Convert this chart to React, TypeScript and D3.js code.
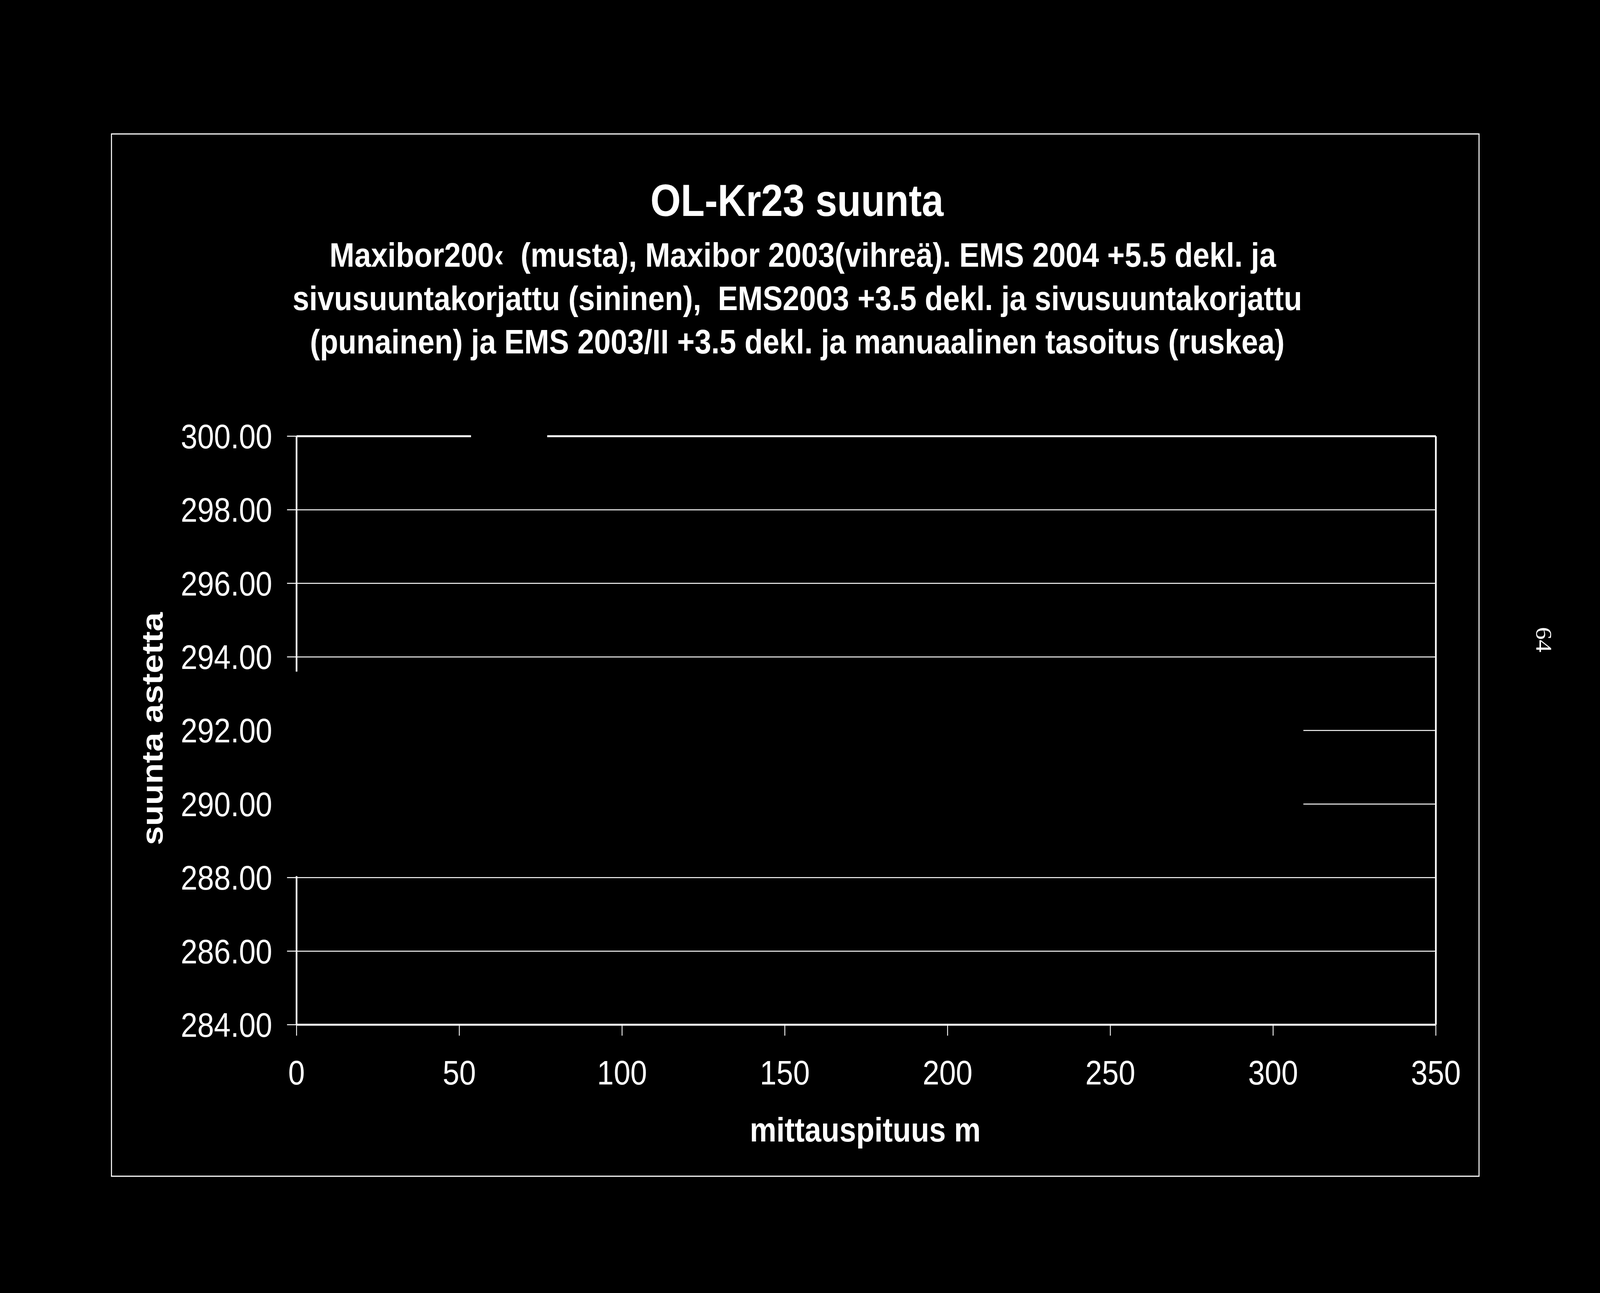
import React from 'react';
import * as d3 from 'd3';

const W = 4708;
const H = 3311;

// axis ticks (metres along the borehole, direction in degrees)
const xTicks = [0, 50, 100, 150, 200, 250, 300, 350];
const yTicks = [284, 286, 288, 290, 292, 294, 296, 298, 300];

const chartTitle = 'OL-Kr23 suunta';
const subtitleLines = [
  'Maxibor200‹  (musta), Maxibor 2003(vihreä). EMS 2004 +5.5 dekl. ja',
  'sivusuuntakorjattu (sininen),  EMS2003 +3.5 dekl. ja sivusuuntakorjattu',
  '(punainen) ja EMS 2003/II +3.5 dekl. ja manuaalinen tasoitus (ruskea)',
];
const xTitle = 'mittauspituus m';
const yTitle = 'suunta astetta';
const pageNumber = '64';

// areas where the (black) series cover the grid, in data units
const coverX0 = [-4.5, 53.6];
const coverX1 = [309.3, 77.0];
const coverY0 = [288.04, 299.9];
const coverY1 = [293.6, 300.1];

const FONT = '"Liberation Sans", Arial, sans-serif';

const App: React.FC = () => {
  const x = d3.scaleLinear().domain([0, 350]).range([872.6, 4225]);
  const y = d3.scaleLinear().domain([284, 300]).range([2624, 1117]);
  const [x0, x1] = x.range();
  const [yBottom, yTop] = y.range();

  return (
    <svg
      viewBox={`0 0 ${W} ${H}`}
      preserveAspectRatio="none"
      style={{ position: 'fixed', top: 0, left: 0, width: '100vw', height: '100vh', display: 'block', background: '#000' }}
    >
      <rect x={0} y={0} width={W} height={H} fill="#000" />

      {/* chart frame */}
      <rect x={328} y={343} width={4024} height={2669} fill="none" stroke="#fff" strokeWidth={3} />

      {/* titles */}
      <text x={2345} y={553} fill="#fff" fontFamily={FONT} fontWeight="bold" fontSize={115} textAnchor="middle">
        {chartTitle}
      </text>
      {subtitleLines.map((line, i) => (
        <text
          key={i}
          x={i === 0 ? 2362 : 2346}
          y={683 + i * 111}
          fill="#fff"
          fontFamily={FONT}
          fontWeight="bold"
          fontSize={88}
          textAnchor="middle"
          style={{ whiteSpace: 'pre' }}
        >
          {line}
        </text>
      ))}

      {/* gridlines */}
      {yTicks.filter(t => t !== 300 && t !== 284).map(t => (
        <line key={`g${t}`} x1={x0} x2={x1} y1={y(t)} y2={y(t)} stroke="#fff" strokeWidth={2.5} />
      ))}

      {/* plot area border (top / right) */}
      <line x1={x0} x2={x1} y1={yTop} y2={yTop} stroke="#fff" strokeWidth={5} />
      <line x1={x1} x2={x1} y1={yTop} y2={yBottom} stroke="#fff" strokeWidth={5} />

      {/* axes */}
      <line x1={x0} x2={x0} y1={yTop} y2={yBottom} stroke="#fff" strokeWidth={5} />
      <line x1={x0} x2={x1} y1={yBottom} y2={yBottom} stroke="#fff" strokeWidth={5} />

      {yTicks.map(t => (
        <g key={`y${t}`}>
          <line x1={x0 - 28} x2={x0} y1={y(t)} y2={y(t)} stroke="#fff" strokeWidth={2.5} />
          <text x={801} y={y(t) + 31} fill="#fff" fontFamily={FONT} fontSize={88} textAnchor="end">
            {d3.format('.2f')(t)}
          </text>
        </g>
      ))}

      {xTicks.map(t => (
        <g key={`x${t}`}>
          <line x1={x(t)} x2={x(t)} y1={yBottom} y2={yBottom + 28} stroke="#fff" strokeWidth={2.5} />
          <text x={x(t)} y={2777} fill="#fff" fontFamily={FONT} fontSize={88} textAnchor="middle">
            {t}
          </text>
        </g>
      ))}

      {/* covered regions */}
      {coverX0.map((cx, i) => (
        <rect
          key={`c${i}`}
          x={x(cx)}
          y={y(coverY1[i])}
          width={x(coverX1[i]) - x(cx)}
          height={y(coverY0[i]) - y(coverY1[i])}
          fill="#000"
        />
      ))}

      {/* axis titles */}
      <text x={2546} y={2923} fill="#fff" fontFamily={FONT} fontWeight="bold" fontSize={88} textAnchor="middle">
        {xTitle}
      </text>
      <text
        transform={`translate(478, 1866) rotate(-90)`}
        fill="#fff"
        fontFamily={FONT}
        fontWeight="bold"
        fontSize={88}
        textAnchor="middle"
      >
        {yTitle}
      </text>

      {/* page number */}
      <text
        transform={`translate(4543, 1638) rotate(90)`}
        fill="#fff"
        fontFamily='"Liberation Serif", "DejaVu Serif", serif'
        fontSize={65}
        textAnchor="middle"
        dominantBaseline="central"
      >
        {pageNumber}
      </text>
    </svg>
  );
};

export default App;
